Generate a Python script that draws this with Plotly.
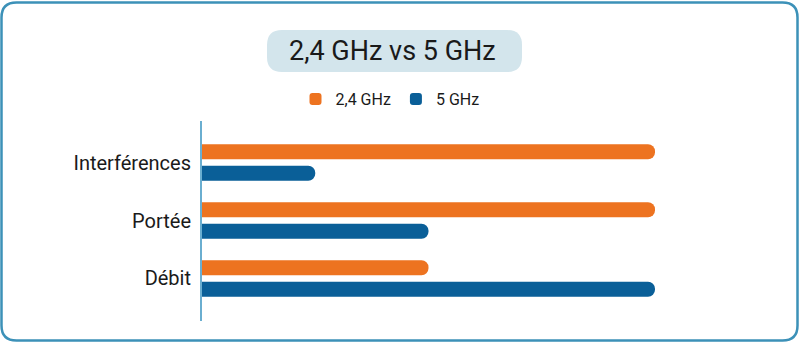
import plotly.graph_objects as go

# ---- data ----
categories = ["Interférences", "Portée", "Débit"]
series_names = ["2,4 GHz", "5 GHz"]
values_24 = [4, 4, 2]
values_5 = [1, 2, 4]
title_text = "2,4 GHz vs 5 GHz"

# ---- layout geometry (page pixels) ----
W, H = 800, 344
L, R, T, B = 202, 145, 121, 23
PW, PH = W - L - R, H - T - B


def to_paper(x, y):
    return (x - L) / PW, (H - B - y) / PH


def rounded_rect(x0, y0, x1, y1, r):
    def p(x, y):
        px, py = to_paper(x, y)
        return f"{px:.5f},{py:.5f}"

    return (
        f"M {p(x0 + r, y0)} L {p(x1 - r, y0)} Q {p(x1, y0)} {p(x1, y0 + r)} "
        f"L {p(x1, y1 - r)} Q {p(x1, y1)} {p(x1 - r, y1)} "
        f"L {p(x0 + r, y1)} Q {p(x0, y1)} {p(x0, y1 - r)} "
        f"L {p(x0, y0 + r)} Q {p(x0, y0)} {p(x0 + r, y0)} Z"
    )


FONT = "Roboto"
ORANGE = "#ed7320"
BLUE = "#0a5f98"
TEXT = "#1a1a1a"

fig = go.Figure()
fig.add_trace(go.Bar(
    y=categories, x=values_24, name=series_names[0], orientation="h",
    marker=dict(color=ORANGE, cornerradius=8, line=dict(width=0)),
    width=0.26, offset=-0.315,
))
fig.add_trace(go.Bar(
    y=categories, x=values_5, name=series_names[1], orientation="h",
    marker=dict(color=BLUE, cornerradius=8, line=dict(width=0)),
    width=0.26, offset=0.055,
))

lx, ly = to_paper(390, 99)
tx, ty = to_paper(392, 51)

fig.update_layout(
    width=W, height=H,
    margin=dict(l=L, r=R, t=T, b=B, pad=0),
    paper_bgcolor="white", plot_bgcolor="white",
    barmode="group",
    showlegend=True,
    legend=dict(
        orientation="h", x=lx, xanchor="center", y=ly, yanchor="middle",
        font=dict(family=FONT, size=16, color=TEXT),
        traceorder="normal", bgcolor="rgba(0,0,0,0)",
    ),
    xaxis=dict(range=[0, 4], visible=False, fixedrange=True),
    yaxis=dict(
        categoryorder="array", categoryarray=categories,
        range=[2.733, -0.716],
        showline=True, linecolor="#6aaed0", linewidth=2,
        showgrid=False, zeroline=False, ticks="",
        ticklabelstandoff=5,
        tickfont=dict(family=FONT, size=20, color=TEXT),
    ),
    shapes=[
        dict(type="path", xref="paper", yref="paper",
             path=rounded_rect(1.5, 2.5, 797.5, 340.5, 15),
             line=dict(color="#3c91b8", width=2.5), fillcolor="rgba(0,0,0,0)",
             layer="below"),
        dict(type="path", xref="paper", yref="paper",
             path=rounded_rect(267, 30, 522, 72, 15),
             line=dict(width=0), fillcolor="#d3e5ec", layer="below"),
    ],
    annotations=[
        dict(text=title_text, xref="paper", yref="paper", x=tx, y=ty,
             xanchor="center", yanchor="middle", showarrow=False,
             font=dict(family=FONT, size=27, color=TEXT)),
    ],
)

fig.write_html("out.html", config=dict(displayModeBar=False))
